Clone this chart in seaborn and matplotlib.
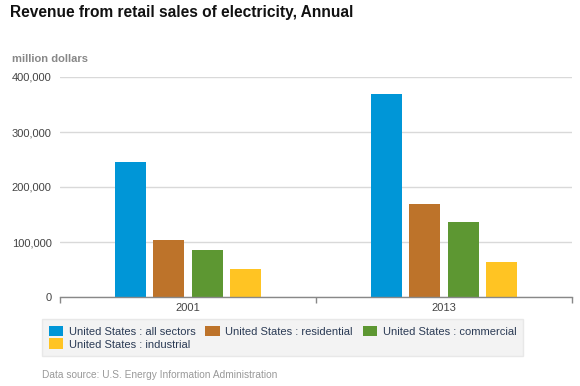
import pandas as pd
import matplotlib.pyplot as plt
import seaborn as sns
from matplotlib.ticker import FuncFormatter

# values (million dollars)
years = ['2001', '2013']
sectors = ['United States : all sectors', 'United States : residential',
           'United States : commercial', 'United States : industrial']
all_sectors = [245000, 370000]
residential = [103500, 168500]
commercial = [85000, 136000]
industrial = [51000, 64000]
colors = ['#0096d7', '#bd732a', '#5d9732', '#ffc423']

rows = []
for name, vals in zip(sectors, [all_sectors, residential, commercial, industrial]):
    for yr, v in zip(years, vals):
        rows.append({'year': yr, 'sector': name, 'revenue': v})
df = pd.DataFrame(rows)

sns.set_style('white')
plt.rcParams['font.family'] = ['Liberation Sans', 'DejaVu Sans']

fig = plt.figure(figsize=(5.8, 3.86), dpi=100)
ax = fig.add_axes([60 / 580, 1 - 297 / 386, 512 / 580, 220 / 386])

sns.barplot(data=df, x='year', y='revenue', hue='sector', hue_order=sectors,
            palette=colors, width=0.6, gap=0.2, saturation=1, ax=ax,
            edgecolor='none', legend=True)

ax.set_xlim(-0.5, 1.5)
ax.set_ylim(0, 400000)
ax.set_yticks([0, 100000, 200000, 300000, 400000])
ax.yaxis.set_major_formatter(FuncFormatter(lambda v, p: f'{int(v):,}'))
ax.grid(axis='y', color='#d9d9d9', linewidth=1)
ax.set_axisbelow(True)
for s in ['top', 'right', 'left']:
    ax.spines[s].set_visible(False)
ax.spines['bottom'].set_color('#888888')
ax.spines['bottom'].set_linewidth(1)
ax.set_xlabel('')
ax.set_ylabel('')
ax.tick_params(axis='y', length=0, pad=6, labelsize=8, labelcolor='#444444')
ax.tick_params(axis='x', which='major', length=0, pad=4, labelsize=8, labelcolor='#444444')
ax.set_xticks([-0.5, 0.5, 1.5], minor=True)
ax.tick_params(axis='x', which='minor', length=4, color='#888888', width=1, bottom=True)

# legend, laid out row by row
handles, labels = ax.get_legend_handles_labels()
order = [0, 3, 1, 2]
ax.get_legend().remove()
leg = fig.legend([handles[i] for i in order], [labels[i] for i in order],
                 ncol=3, loc='upper left', bbox_to_anchor=(42 / 580, 1 - 319 / 386),
                 frameon=True, fancybox=False, fontsize=8, handlelength=1.3,
                 handleheight=1.1, handletextpad=0.5, columnspacing=0.9,
                 labelspacing=0.15, borderpad=0.6, borderaxespad=0)
leg.get_frame().set_facecolor('#f0f0f0')
leg.get_frame().set_edgecolor('#e4e4e4')
for t in leg.get_texts():
    t.set_color('#2b3b55')

fig.text(10 / 580, 1 - 12 / 386, 'Revenue from retail sales of electricity, Annual',
         fontsize=11.2, fontweight='bold', color='#111111', va='center', ha='left')
fig.text(12 / 580, 1 - 59 / 386, 'million dollars', fontsize=8, fontweight='bold',
         color='#888888', va='center', ha='left')
fig.text(42 / 580, 1 - 375 / 386, 'Data source: U.S. Energy Information Administration',
         fontsize=7.3, color='#999999', va='center', ha='left')

fig.savefig('out.png', dpi=100)
